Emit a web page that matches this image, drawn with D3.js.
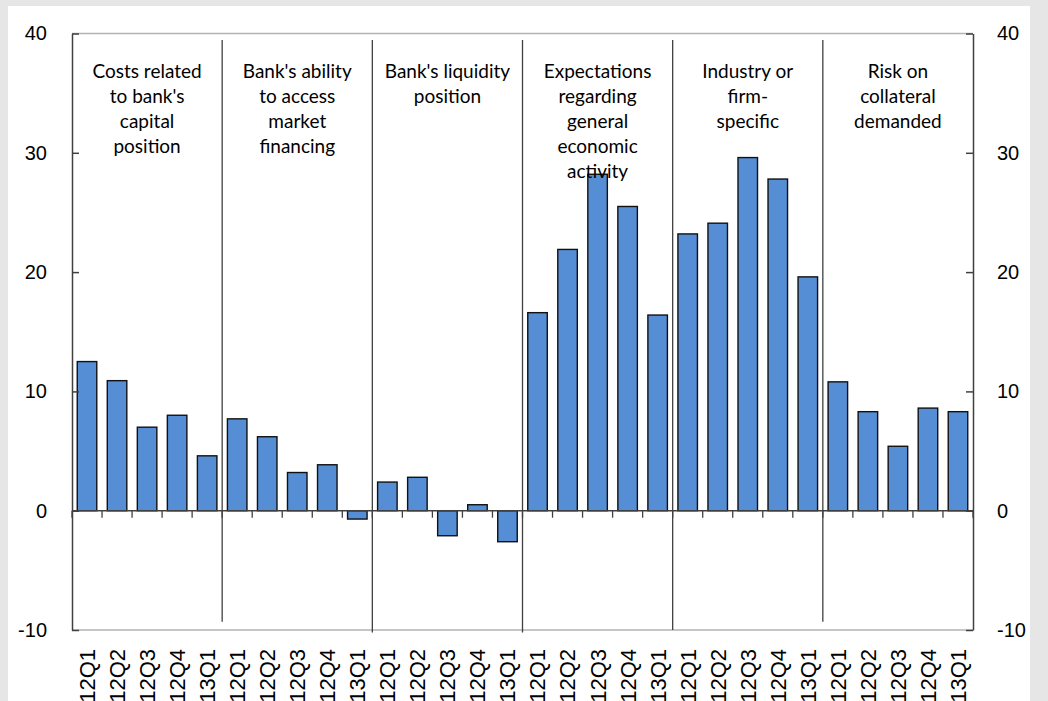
<!DOCTYPE html>
<html>
<head>
<meta charset="utf-8">
<script src="https://cdn.jsdelivr.net/npm/d3@7"></script>
<style>
  body { margin: 0; background: #e6e6e6; }
  svg { display: block; }
</style>
</head>
<body>
<svg width="1048" height="701"></svg>
<script>
// factor groups and quarters
const groups = [
  ["Costs related", "to bank's", "capital", "position"],
  ["Bank's ability", "to access", "market", "financing"],
  ["Bank's liquidity", "position"],
  ["Expectations", "regarding", "general", "economic", "activity"],
  ["Industry or", "firm-", "specific"],
  ["Risk on", "collateral", "demanded"]
];
const quarters = ["12Q1", "12Q2", "12Q3", "12Q4", "13Q1"];

// net percentages, one row per group
const costsCapital   = [12.5, 10.9, 7.0, 8.0, 4.6];
const marketAccess   = [7.7, 6.2, 3.2, 3.85, -0.7];
const liquidity      = [2.4, 2.8, -2.1, 0.5, -2.6];
const expectations   = [16.6, 21.9, 28.2, 25.5, 16.4];
const industryFirm   = [23.2, 24.1, 29.6, 27.8, 19.6];
const collateralRisk = [10.8, 8.3, 5.4, 8.6, 8.3];

const yTicks = [-10, 0, 10, 20, 30, 40];

const series = [costsCapital, marketAccess, liquidity, expectations, industryFirm, collateralRisk];
const rows = [];
series.forEach((vals, g) => vals.forEach((v, q) => rows.push({ key: g + "-" + q, g, q: quarters[q], v })));

const svg = d3.select("svg");

// white panel
svg.append("rect")
    .attr("x", 8).attr("y", 6)
    .attr("width", 1022).attr("height", 700)
    .attr("fill", "#fff");

const plotL = 72, plotR = 973, plotT = 33.5, plotB = 630;

const x = d3.scaleBand()
    .domain(rows.map(d => d.key))
    .range([plotL, plotR])
    .paddingInner(0.35)
    .paddingOuter(0.175);

const y = d3.scaleLinear().domain([-10, 40]).range([plotB, plotT]);

const step = x.step();

// top / bottom frame lines
svg.append("line")
    .attr("x1", plotL).attr("x2", plotR).attr("y1", y(40)).attr("y2", y(40))
    .attr("stroke", "#b3b3b3").attr("stroke-width", 1.5);
svg.append("line")
    .attr("x1", plotL).attr("x2", plotR).attr("y1", y(-10)).attr("y2", y(-10))
    .attr("stroke", "#b3b3b3").attr("stroke-width", 1.5);

// bars
svg.append("g")
  .selectAll("rect")
  .data(rows)
  .join("rect")
    .attr("x", d => x(d.key))
    .attr("width", x.bandwidth())
    .attr("y", d => y(Math.max(0, d.v)))
    .attr("height", d => Math.abs(y(d.v) - y(0)))
    .attr("fill", "#558ed5")
    .attr("stroke", "#111")
    .attr("stroke-width", 1.4);

// zero line with boundary ticks
const zero = svg.append("g");
zero.append("line")
    .attr("x1", plotL).attr("x2", plotR).attr("y1", y(0)).attr("y2", y(0))
    .attr("stroke", "#404040").attr("stroke-width", 1.5);
zero.selectAll("line.tk")
  .data(d3.range(rows.length + 1))
  .join("line")
    .attr("class", "tk")
    .attr("x1", i => plotL + i * step).attr("x2", i => plotL + i * step)
    .attr("y1", y(0)).attr("y2", y(0) + 7)
    .attr("stroke", "#404040").attr("stroke-width", 1.3);

// group separators
const sepBottom = [-9.3, -10.2, -10.2, -10, -9.3];
svg.append("g")
  .selectAll("line")
  .data(d3.range(1, groups.length))
  .join("line")
    .attr("x1", g => plotL + g * 5 * step)
    .attr("x2", g => plotL + g * 5 * step)
    .attr("y1", 40)
    .attr("y2", g => y(sepBottom[g - 1]))
    .attr("stroke", "#404040").attr("stroke-width", 1.3);

// y axes
const axisFont = "'Liberation Sans', Arial, sans-serif";
const yl = svg.append("g")
    .attr("transform", `translate(${plotL},0)`)
    .call(d3.axisLeft(y).tickValues(yTicks).tickFormat(d => String(d))
      .tickSizeInner(-7).tickSizeOuter(0).tickPadding(25));
const yr = svg.append("g")
    .attr("transform", `translate(${plotR},0)`)
    .call(d3.axisRight(y).tickValues(yTicks).tickFormat(d => String(d))
      .tickSizeInner(-7).tickSizeOuter(0).tickPadding(24));
[yl, yr].forEach(a => {
  a.select(".domain").attr("stroke", "#404040").attr("stroke-width", 1.5);
  a.selectAll(".tick line").attr("stroke", "#404040").attr("stroke-width", 1.5);
  a.selectAll(".tick text")
      .attr("font-family", axisFont)
      .attr("font-size", 20)
      .attr("fill", "#000");
});

// quarter labels
const xa = svg.append("g")
    .attr("transform", "translate(0,640)")
    .call(d3.axisBottom(x).tickSize(0).tickFormat(k => rows.find(r => r.key === k).q));
xa.select(".domain").remove();
xa.selectAll(".tick text")
    .attr("transform", "rotate(-90)")
    .attr("text-anchor", "end")
    .attr("x", -9)
    .attr("y", 0)
    .attr("dy", "0.36em")
    .attr("font-family", axisFont)
    .attr("font-size", 22)
    .attr("fill", "#000");

// group titles (over the bars)
const titles = svg.append("g")
    .attr("font-family", "Lato, 'Open Sans', sans-serif")
    .attr("font-size", 19)
    .attr("text-anchor", "middle")
    .attr("fill", "#000");
groups.forEach((lines, g) => {
  const cx = plotL + (g * 5 + 2.5) * step;
  titles.append("text")
    .selectAll("tspan")
    .data(lines)
    .join("tspan")
      .attr("x", cx)
      .attr("y", (d, i) => 78 + i * 25)
      .text(d => d);
});
</script>
</body>
</html>
